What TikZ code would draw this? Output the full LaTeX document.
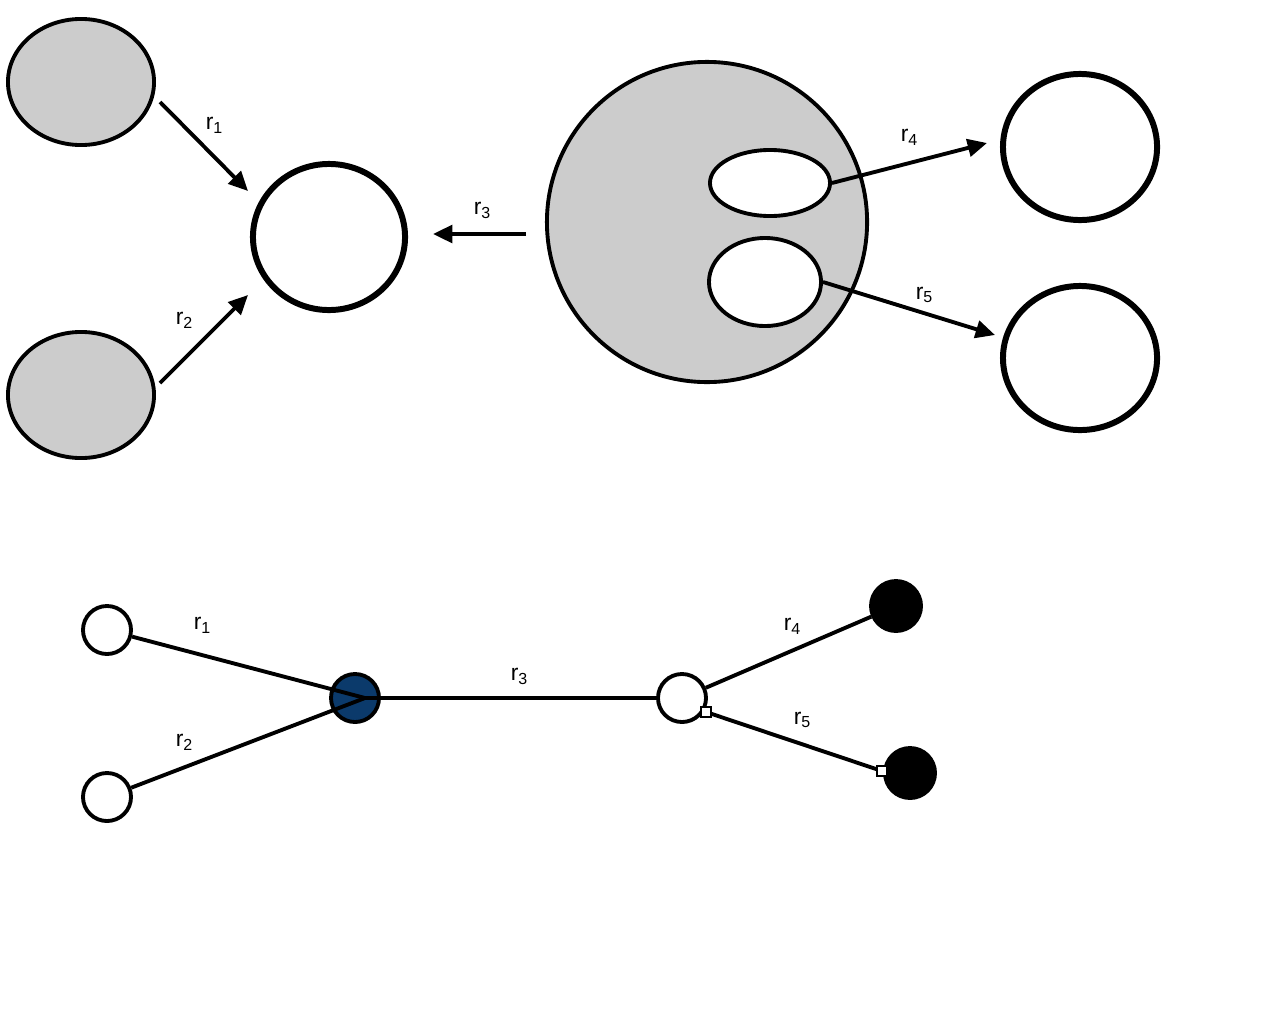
\documentclass[tikz,border=0pt]{standalone}
\usepackage{fontspec}
\setmainfont{Liberation Sans}
\usetikzlibrary{shapes.geometric,arrows.meta}
\definecolor{lightgrey}{gray}{0.8}
\definecolor{darkblue}{RGB}{11,58,107}

\tikzset{
    link/.style={line width=1.1pt},
    arrowlink/.style={link,-{Triangle[length=5.5pt,width=5pt]}},
    bigring/.style={ellipse,draw,line width=1.7pt,fill=white,inner sep=0pt},
    blob/.style={ellipse,draw,line width=1.1pt,fill=lightgrey,inner sep=0pt},
    hole/.style={ellipse,draw,line width=1.1pt,fill=white,inner sep=0pt},
    dot/.style={circle,draw,line width=1.1pt,minimum size=0.48cm,inner sep=0pt},
    port/.style={draw,fill=white,line width=0.3pt,minimum size=0.1cm,inner sep=0pt},
    lbl/.style={font=\fontsize{6.5}{8}\selectfont,inner sep=0pt}
}
\newcommand{\rlab}[1]{r\textsubscript{#1}}

\begin{document}
\begin{tikzpicture}[x=0.01cm,y=-0.01cm]
\useasboundingbox (0,0) rectangle (1280,1024);

% upper picture
\node[blob,minimum width=1.46cm,minimum height=1.26cm] (src1) at (81,82) {};
\node[blob,minimum width=1.46cm,minimum height=1.26cm] (src2) at (81,395) {};
\node[bigring,minimum width=1.52cm,minimum height=1.46cm] (sink) at (329,237) {};
\node[blob,circle,minimum size=3.2cm] (cell) at (707,222) {};
\node[hole,minimum width=1.2cm,minimum height=0.66cm] (inA) at (770,183) {};
\node[hole,minimum width=1.12cm,minimum height=0.88cm] (inB) at (765,282) {};
\node[bigring,minimum width=1.54cm,minimum height=1.46cm] (out4) at (1080,147) {};
\node[bigring,minimum width=1.54cm,minimum height=1.44cm] (out5) at (1080,358) {};

\coordinate (a1) at (160,102); \coordinate (b1) at (248,191);
\coordinate (a2) at (160,383); \coordinate (b2) at (248,295);
\coordinate (a3) at (526,234); \coordinate (b3) at (433,234);
\coordinate (b4) at (987,143); \coordinate (b5) at (995,335);
\draw[arrowlink] (a1) -- (b1);
\draw[arrowlink] (a2) -- (b2);
\draw[arrowlink] (a3) -- (b3);
\draw[arrowlink] (inA.east) -- (b4);
\draw[arrowlink] (inB.east) -- (b5);

\node[lbl] (t1) at (215,125) {\rlab{1}};
\node[lbl] (t2) at (185,320) {\rlab{2}};
\node[lbl] (t3) at (483,210) {\rlab{3}};
\node[lbl] (t4) at (910,137) {\rlab{4}};
\node[lbl] (t5) at (925,295) {\rlab{5}};

% lower picture
\node[dot,fill=white] (n1) at (107,630) {};
\node[dot,fill=white] (n2) at (107,797) {};
\node[dot,fill=darkblue] (hub) at (355,698) {};
\node[dot,fill=white] (jn) at (682,698) {};
\node[dot,fill=black,minimum size=0.5cm] (n4) at (896,606) {};
\node[dot,fill=black,minimum size=0.5cm] (n5) at (910,773) {};

\coordinate (hubin) at (365,698);
\draw[link] (n1) -- (hubin);
\draw[link] (n2) -- (hubin);
\draw[link] (hubin) -- (jn);
\draw[link] (jn) -- (n4);
\node[port] (p1) at (706,712) {};
\node[port] (p2) at (882,771) {};
\draw[link] (p1) -- (p2);

\node[lbl] (s1) at (203,625) {\rlab{1}};
\node[lbl] (s2) at (185,742) {\rlab{2}};
\node[lbl] (s3) at (520,676) {\rlab{3}};
\node[lbl] (s4) at (793,626) {\rlab{4}};
\node[lbl] (s5) at (803,720) {\rlab{5}};

\end{tikzpicture}
\end{document}
